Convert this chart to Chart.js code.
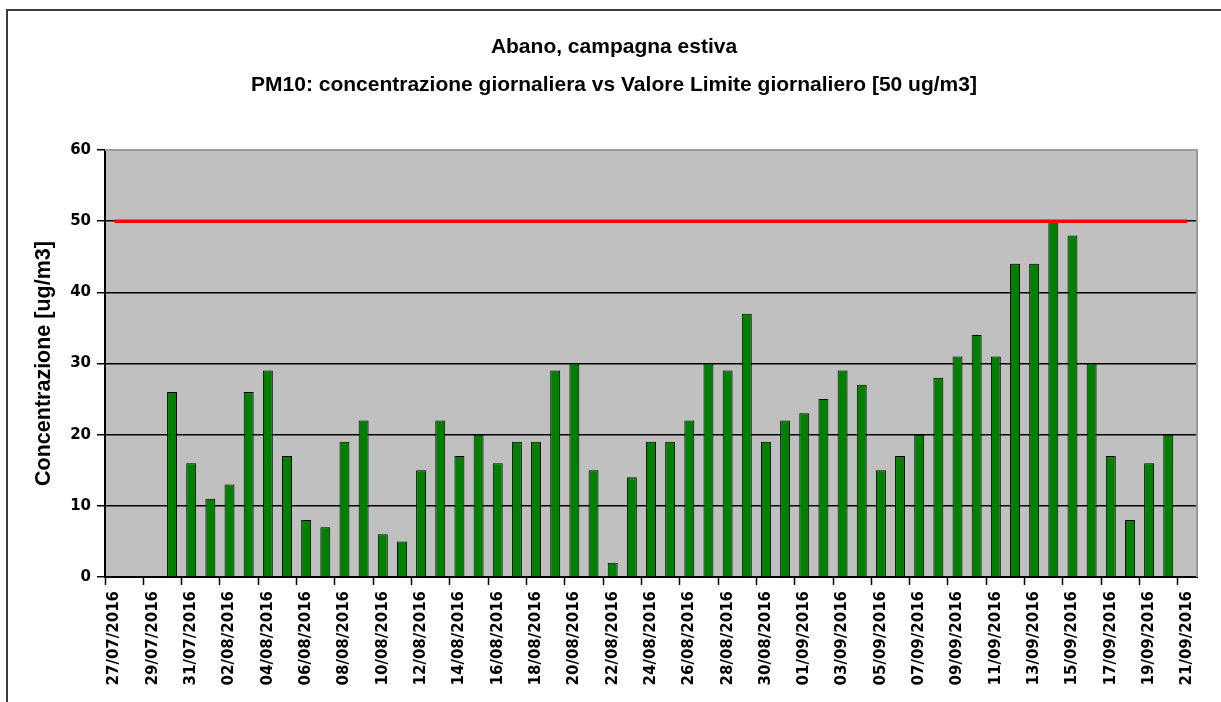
<!DOCTYPE html>
<html>
<head>
<meta charset="utf-8">
<script src="https://cdn.jsdelivr.net/npm/chart.js@4/dist/chart.umd.min.js"></script>
<style>
  html, body { margin: 0; padding: 0; background: #ffffff; overflow: hidden; }
  #frame { position: absolute; left: 6px; top: 9px; width: 1300px; height: 800px; border: 2px solid #3c3c3c; box-sizing: border-box; }
  #c { position: absolute; left: 0; top: 0; }
</style>
</head>
<body>
<div id="frame"></div>
<canvas id="c" width="1221" height="702"></canvas>
<script>
const days = [
  '27/07/2016','28/07/2016','29/07/2016','30/07/2016','31/07/2016',
  '01/08/2016','02/08/2016','03/08/2016','04/08/2016','05/08/2016','06/08/2016','07/08/2016','08/08/2016',
  '09/08/2016','10/08/2016','11/08/2016','12/08/2016','13/08/2016','14/08/2016','15/08/2016','16/08/2016',
  '17/08/2016','18/08/2016','19/08/2016','20/08/2016','21/08/2016','22/08/2016','23/08/2016','24/08/2016',
  '25/08/2016','26/08/2016','27/08/2016','28/08/2016','29/08/2016','30/08/2016','31/08/2016',
  '01/09/2016','02/09/2016','03/09/2016','04/09/2016','05/09/2016','06/09/2016','07/09/2016','08/09/2016',
  '09/09/2016','10/09/2016','11/09/2016','12/09/2016','13/09/2016','14/09/2016','15/09/2016','16/09/2016',
  '17/09/2016','18/09/2016','19/09/2016','20/09/2016','21/09/2016'
];

const pm10 = [
  null, null, null, 26, 16,
  11, 13, 26, 29, 17, 8, 7, 19,
  22, 6, 5, 15, 22, 17, 20, 16,
  19, 19, 29, 30, 15, 2, 14, 19,
  19, 22, 30, 29, 37, 19, 22,
  23, 25, 29, 27, 15, 17, 20, 28,
  31, 34, 31, 44, 44, 50, 48, 30,
  17, 8, 16, 20, null
];

const limitValue = [
  50, 50, 50, 50, 50,
  50, 50, 50, 50, 50, 50, 50, 50,
  50, 50, 50, 50, 50, 50, 50, 50,
  50, 50, 50, 50, 50, 50, 50, 50,
  50, 50, 50, 50, 50, 50, 50,
  50, 50, 50, 50, 50, 50, 50, 50,
  50, 50, 50, 50, 50, 50, 50, 50,
  50, 50, 50, 50, 50
];

const yTicks = [0, 10, 20, 30, 40, 50, 60];

const titleLines = [
  'Abano, campagna estiva',
  'PM10: concentrazione giornaliera vs Valore Limite giornaliero [50 ug/m3]'
];
const yTitle = 'Concentrazione [ug/m3]';

const plotBg = {
  id: 'plotBg',
  beforeDraw(chart) {
    const { ctx, chartArea: a } = chart;
    ctx.save();
    ctx.fillStyle = '#c0c0c0';
    ctx.fillRect(a.left, a.top, a.right - a.left, a.bottom - a.top);
    ctx.restore();
  },
  afterDraw(chart) {
    const { ctx, chartArea: a } = chart;
    ctx.save();
    ctx.strokeStyle = '#9a9a9a';
    ctx.lineWidth = 2;
    ctx.beginPath();
    ctx.moveTo(a.left, a.top);
    ctx.lineTo(a.right, a.top);
    ctx.lineTo(a.right, a.bottom);
    ctx.stroke();
    ctx.restore();
  }
};

const tickFont = { family: '"DejaVu Sans", Verdana, sans-serif', size: 15, weight: 'bold' };

new Chart(document.getElementById('c'), {
  type: 'bar',
  data: {
    labels: days,
    datasets: [
      {
        type: 'line',
        label: 'Valore Limite',
        data: limitValue,
        borderColor: '#ff0000',
        borderWidth: 3.5,
        pointRadius: 0,
        fill: false,
        order: 0
      },
      {
        type: 'bar',
        label: 'PM10',
        data: pm10,
        backgroundColor: '#008000',
        borderColor: '#000000',
        borderWidth: 1,
        barPercentage: 0.52,
        categoryPercentage: 1.0,
        order: 1
      }
    ]
  },
  options: {
    responsive: false,
    animation: false,
    layout: { padding: { left: 31, right: 24, top: 0, bottom: 0 } },
    plugins: {
      legend: { display: false },
      tooltip: { enabled: false },
      title: {
        display: true,
        text: titleLines,
        color: '#000000',
        font: { family: '"Liberation Sans", Arial, sans-serif', size: 21, weight: 'bold', lineHeight: '38px' },
        padding: { top: 28, bottom: 46 }
      }
    },
    scales: {
      x: {
        offset: true,
        grid: {
          offset: true,
          drawOnChartArea: false,
          drawTicks: true,
          tickLength: 8,
          tickWidth: 1.5,
          tickColor: (c) => (typeof c.index === 'number' && c.index % 2 === 0) ? '#000000' : 'rgba(0,0,0,0)'
        },
        border: { display: true, color: '#000000', width: 2 },
        ticks: {
          autoSkip: false,
          maxRotation: 90,
          minRotation: 90,
          padding: 6,
          color: '#000000',
          font: tickFont,
          callback: (v, i) => (i % 2 === 0 ? days[i] : '')
        },
        afterFit: (s) => { s.height = 125; }
      },
      y: {
        min: 0,
        max: 60,
        afterBuildTicks: (s) => { s.ticks = yTicks.map(v => ({ value: v })); },
        grid: {
          color: (c) => {
            const v = c.tick ? c.tick.value : null;
            if (v === 60) return '#9a9a9a';
            if (v === 0) return 'rgba(0,0,0,0)';
            return '#000000';
          },
          lineWidth: 1.5,
          tickLength: 8,
          tickColor: '#000000',
          tickWidth: 1.5
        },
        border: { display: true, color: '#000000', width: 2 },
        ticks: {
          padding: 6,
          color: '#000000',
          font: tickFont
        },
        title: {
          display: true,
          text: yTitle,
          color: '#000000',
          font: { family: '"Liberation Sans", Arial, sans-serif', size: 21.5, weight: 'bold', lineHeight: 1.2 },
          padding: { top: 0, bottom: 0 }
        },
        afterFit: (s) => { s.width = 74; }
      }
    }
  },
  plugins: [plotBg]
});
</script>
</body>
</html>
